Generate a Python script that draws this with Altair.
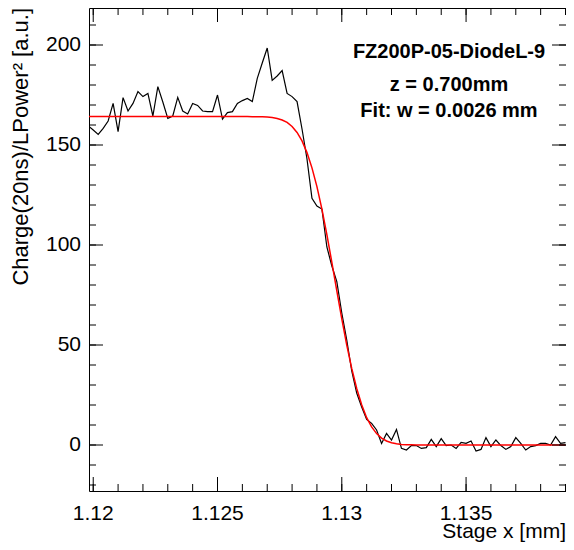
import altair as alt
import pandas as pd

# ---------------- data ----------------
x_mm = [
    1.1198, 1.1200, 1.1202, 1.1204, 1.1206, 1.1208, 1.1210, 1.1212, 1.1214, 1.1216,
    1.1218, 1.1220, 1.1222, 1.1224, 1.1226, 1.1228, 1.1230, 1.1232, 1.1234, 1.1236,
    1.1238, 1.1240, 1.1242, 1.1244, 1.1246, 1.1248, 1.1250, 1.1252, 1.1254, 1.1256,
    1.1258, 1.1260, 1.1262, 1.1264, 1.1266, 1.1268, 1.1270, 1.1272, 1.1274, 1.1276,
    1.1278, 1.1280, 1.1282, 1.1284, 1.1286, 1.1288, 1.1290, 1.1292, 1.1294, 1.1296,
    1.1298, 1.1300, 1.1302, 1.1304, 1.1306, 1.1308, 1.1310, 1.1312, 1.1314, 1.1316,
    1.1318, 1.1320, 1.1322, 1.1324, 1.1326, 1.1328, 1.1330, 1.1332, 1.1334, 1.1336,
    1.1338, 1.1340, 1.1342, 1.1344, 1.1346, 1.1348, 1.1350, 1.1352, 1.1354, 1.1356,
    1.1358, 1.1360, 1.1362, 1.1364, 1.1366, 1.1368, 1.1370, 1.1372, 1.1374, 1.1376,
    1.1378, 1.1380, 1.1382, 1.1384, 1.1386, 1.1388, 1.1390,
]

charge = [
    159.5, 157.5, 155.3, 158.3, 162.0, 170.8, 156.7, 173.7, 167.0, 170.8,
    176.7, 174.2, 175.8, 164.5, 179.2, 171.5, 163.3, 164.5, 173.8, 167.0,
    165.5, 170.8, 169.8, 167.0, 166.7, 166.7, 175.0, 163.0, 166.2, 166.7,
    170.8, 172.2, 173.3, 171.7, 183.3, 191.0, 198.5, 182.3, 184.5, 187.2,
    175.8, 174.2, 171.7, 158.0, 143.0, 123.3, 119.5, 118.0, 99.0, 89.5,
    81.7, 66.0, 52.5, 37.0, 26.0, 19.0, 12.8, 10.8, 7.5, 0.8,
    5.8, 2.5, 7.8, -1.7, -2.5, -0.3, -0.3, -1.7, -1.3, 2.8,
    -0.8, 3.2, -0.3, 0.0, -1.7, 1.3, 0.8, 2.0, -3.0, -2.2,
    3.7, -0.8, 2.5, -0.3, -2.2, -0.8, 3.7, 0.8, -2.5, -0.8,
    -0.3, 0.8, 0.8, 0.0, 4.2, 0.8, 1.2,
]

fit = [
    164.2, 164.2, 164.2, 164.2, 164.2, 164.2, 164.2, 164.2, 164.2, 164.2,
    164.2, 164.2, 164.2, 164.2, 164.2, 164.2, 164.2, 164.2, 164.2, 164.2,
    164.2, 164.2, 164.2, 164.2, 164.2, 164.2, 164.2, 164.2, 164.2, 164.2,
    164.2, 164.2, 164.2, 164.17, 164.15, 164.09, 163.96, 163.72, 163.27, 162.48,
    161.30, 159.28, 156.29, 152.04, 146.20, 138.56, 129.18, 117.91, 105.14, 91.34,
    77.10, 63.11, 49.99, 38.28, 28.28, 20.15, 13.65, 9.06, 5.69, 3.43,
    1.99, 1.10, 0.59, 0.30, 0.15, 0.07, 0.03, 0.0, 0.0, 0.0,
    0.0, 0.0, 0.0, 0.0, 0.0, 0.0, 0.0, 0.0, 0.0, 0.0,
    0.0, 0.0, 0.0, 0.0, 0.0, 0.0, 0.0, 0.0, 0.0, 0.0,
    0.0, 0.0, 0.0, 0.0, 0.0, 0.0, 0.0,
]

x_major = [1.12, 1.125, 1.13, 1.135]
x_minor = [1.120, 1.121, 1.122, 1.123, 1.124, 1.125, 1.126, 1.127, 1.128, 1.129,
           1.130, 1.131, 1.132, 1.133, 1.134, 1.135, 1.136, 1.137, 1.138, 1.139]
y_major = [0, 50, 100, 150, 200]
y_minor = [-20, -10, 0, 10, 20, 30, 40, 50, 60, 70, 80, 90, 100, 110, 120, 130,
           140, 150, 160, 170, 180, 190, 200, 210]

x_title = "Stage x [mm]"
y_title = "Charge(20ns)/LPower² [a.u.]"
label_lines = ["FZ200P-05-DiodeL-9", "z = 0.700mm", "Fit: w = 0.0026 mm"]

# ---------------- layout / style ----------------
W, H = 477, 483
PAD_L = 81
FONT = "Liberation Sans"
FS = 21
MAJ, MIN = 14, 7

xs = alt.Scale(domain=[1.11983, 1.13902], nice=False, zero=False)
ys = alt.Scale(domain=[-23, 218.5], nice=False, zero=False)

df = pd.DataFrame({"x": x_mm, "charge": charge, "fit": fit})

data_line = alt.Chart(df).mark_line(color="black", strokeWidth=1.2, clip=True).encode(
    x=alt.X("x:Q", scale=xs, axis=None),
    y=alt.Y("charge:Q", scale=ys, axis=None),
)
fit_line = alt.Chart(df).mark_line(color="#ff0000", strokeWidth=1.5, clip=True).encode(
    x=alt.X("x:Q", scale=xs, axis=None),
    y=alt.Y("fit:Q", scale=ys, axis=None),
)


def xticks(vals, length):
    base = alt.Chart(pd.DataFrame({"t": vals})).mark_rule(color="black", strokeWidth=1)
    bottom = base.encode(x=alt.X("t:Q", scale=xs, axis=None),
                         y=alt.value(H), y2=alt.value(H - length))
    top = base.encode(x=alt.X("t:Q", scale=xs, axis=None),
                      y=alt.value(0), y2=alt.value(length))
    return [bottom, top]


def yticks(vals, length):
    base = alt.Chart(pd.DataFrame({"t": vals})).mark_rule(color="black", strokeWidth=1)
    left = base.encode(y=alt.Y("t:Q", scale=ys, axis=None),
                       x=alt.value(0), x2=alt.value(length))
    right = base.encode(y=alt.Y("t:Q", scale=ys, axis=None),
                        x=alt.value(W), x2=alt.value(W - length))
    return [left, right]


tick_layers = (xticks(x_major, MAJ) + xticks(x_minor, MIN)
               + yticks(y_major, MAJ) + yticks(y_minor, MIN))

# tick labels (positioned through the scales)
x_labels = alt.Chart(pd.DataFrame({"t": x_major})).mark_text(
    font=FONT, fontSize=FS, align="center", baseline="top", color="black"
).encode(
    x=alt.X("t:Q", scale=xs, axis=None),
    y=alt.value(H + 12),
    text=alt.Text("t:Q", format="~g"),
)
y_labels = alt.Chart(pd.DataFrame({"t": y_major})).mark_text(
    font=FONT, fontSize=FS, align="right", baseline="middle", color="black"
).encode(
    y=alt.Y("t:Q", scale=ys, axis=None),
    x=alt.value(-8),
    text=alt.Text("t:Q", format="d"),
)

# axis titles
x_title_layer = alt.Chart(pd.DataFrame({"s": [x_title]})).mark_text(
    font=FONT, fontSize=FS, align="right", baseline="alphabetic", color="black"
).encode(text="s:N", x=alt.value(W), y=alt.value(H + 47))
y_title_layer = alt.Chart(pd.DataFrame({"s": [y_title]})).mark_text(
    font=FONT, fontSize=22, align="right", baseline="alphabetic", color="black",
    angle=270,
).encode(text="s:N", x=alt.value(-61), y=alt.value(0))

text_y = [44, 77, 103]
text_layers = []
for line, ty in zip(label_lines, text_y):
    text_layers.append(
        alt.Chart(pd.DataFrame({"line": [line]})).mark_text(
            font=FONT, fontSize=20, fontWeight="bold", align="center",
            baseline="middle", color="black",
        ).encode(text="line:N", x=alt.value(360), y=alt.value(ty))
    )

chart = alt.layer(
    data_line, fit_line, *tick_layers, x_labels, y_labels,
    x_title_layer, y_title_layer, *text_layers,
).properties(
    width=W, height=H,
    autosize=alt.AutoSizeParams(type="none"),
    padding={"left": PAD_L, "top": 0, "right": 0, "bottom": 51},
).configure(background="white").configure_view(stroke="black", strokeWidth=1)

chart.save("out.html", embed_options={"renderer": "svg", "actions": False})
